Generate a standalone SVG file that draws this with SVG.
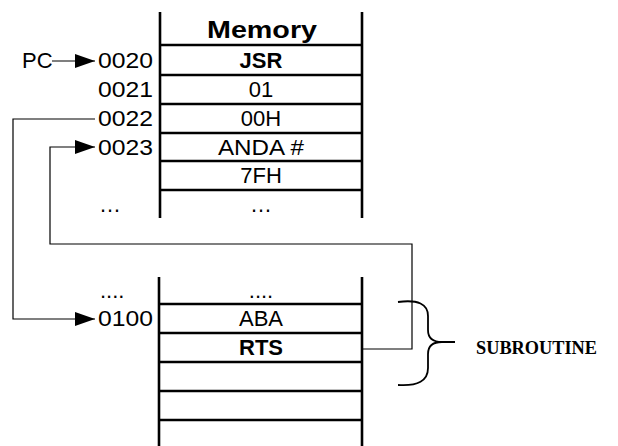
<svg xmlns="http://www.w3.org/2000/svg" width="618" height="446" viewBox="0 0 618 446">
<style>
.bg{fill:#fff}
.mem{stroke:#000;stroke-width:2.6;fill:none}
.con{stroke:#000;stroke-width:1.2;fill:none}
.t{font-family:"Liberation Sans",Arial,sans-serif;font-size:22px;fill:#000}
.b{font-weight:bold}
.m{text-anchor:middle}
.r{text-anchor:end}
.title{font-size:24px}
.sub{font-family:"Liberation Serif","Times New Roman",serif;font-weight:bold;font-size:19px;fill:#000}
</style>
<defs>
<marker id="ah" markerUnits="userSpaceOnUse" markerWidth="20" markerHeight="14" refX="20" refY="7" orient="auto">
<path d="M0,0 L20,7 L0,14 z" fill="#000"/>
</marker>
</defs>
<rect class="bg" width="618" height="446"/>
<g id="memory-top">
<line class="mem" x1="160" y1="12" x2="160" y2="218"/>
<line class="mem" x1="362" y1="12" x2="362" y2="218"/>
<line class="mem" x1="160" y1="45" x2="362" y2="45"/>
<line class="mem" x1="160" y1="75" x2="362" y2="75"/>
<line class="mem" x1="160" y1="104" x2="362" y2="104"/>
<line class="mem" x1="160" y1="133" x2="362" y2="133"/>
<line class="mem" x1="160" y1="161" x2="362" y2="161"/>
<line class="mem" x1="160" y1="190" x2="362" y2="190"/>
<text class="t b m title" x="262" y="38" textLength="110" lengthAdjust="spacingAndGlyphs">Memory</text>
<text class="t b m" x="261" y="68">JSR</text>
<text class="t m" x="261" y="97">01</text>
<text class="t m" x="261" y="126">00H</text>
<text class="t m" x="261" y="155" textLength="86" lengthAdjust="spacingAndGlyphs">ANDA #</text>
<text class="t m" x="261" y="183">7FH</text>
<text class="t m" x="261" y="212">…</text>
</g>
<g id="addr-top">
<text class="t" x="22" y="68">PC</text>
<text class="t r" x="153" y="68" textLength="55" lengthAdjust="spacingAndGlyphs">0020</text>
<text class="t r" x="153" y="97" textLength="55" lengthAdjust="spacingAndGlyphs">0021</text>
<text class="t r" x="153" y="126" textLength="55" lengthAdjust="spacingAndGlyphs">0022</text>
<text class="t r" x="153" y="155" textLength="55" lengthAdjust="spacingAndGlyphs">0023</text>
<text class="t" x="99" y="212">…</text>
</g>
<g id="memory-bottom">
<line class="mem" x1="159" y1="277" x2="159" y2="446"/>
<line class="mem" x1="362" y1="277" x2="362" y2="446"/>
<line class="mem" x1="159" y1="304" x2="362" y2="304"/>
<line class="mem" x1="159" y1="333" x2="362" y2="333"/>
<line class="mem" x1="159" y1="362" x2="362" y2="362"/>
<line class="mem" x1="159" y1="391" x2="362" y2="391"/>
<line class="mem" x1="159" y1="420" x2="362" y2="420"/>
<text class="t m" x="261" y="298">....</text>
<text class="t m" x="261" y="326">ABA</text>
<text class="t b m" x="261" y="355">RTS</text>
<text class="t" x="100" y="298">....</text>
<text class="t r" x="153" y="326" textLength="55" lengthAdjust="spacingAndGlyphs">0100</text>
</g>
<g id="subroutine">
<path class="mem" style="stroke-width:1.8" d="M398,302 Q428,298 428,316 L428,330 Q428,342 442,342 L455,342 M442,342 Q428,342 428,354 L428,368 Q428,387 398,385"/>
<text class="sub" x="476" y="354" textLength="121" lengthAdjust="spacingAndGlyphs">SUBROUTINE</text>
</g>
<g id="connectors">
<line class="con" x1="52" y1="61" x2="95" y2="61" marker-end="url(#ah)"/>
<polyline class="con" points="95,119 13,119 13,319 95,319" marker-end="url(#ah)"/>
<polyline class="con" points="362,349 412,349 412,244 50,244 50,147 95,147" marker-end="url(#ah)"/>
</g>
</svg>
